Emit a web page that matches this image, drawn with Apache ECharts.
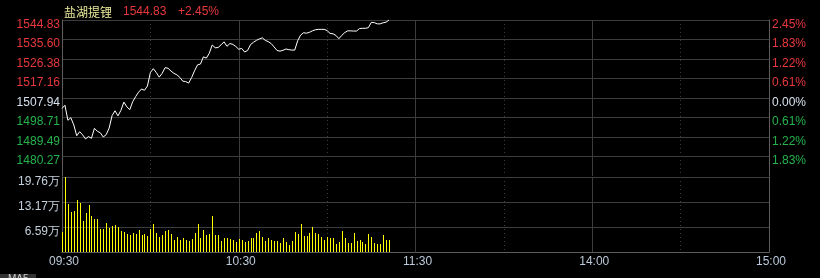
<!DOCTYPE html>
<html><head><meta charset="utf-8">
<script src="https://cdn.jsdelivr.net/npm/echarts@6/dist/echarts.min.js"></script>
<style>html,body{margin:0;padding:0;background:#000;}#c{width:820px;height:278px;}</style>
</head><body><div id="c"></div>
<script>
const stockName = '盐湖提锂';
const lastPrice = '1544.83';
const lastChange = '+2.45%';
const priceMin = 1471.05;
const priceMax = 1544.83;
const volMax = 19.76;
const priceTicks = ['','1480.27','1489.49','1498.71','1507.94','1517.16','1526.38','1535.60','1544.83'];
const pctTicks = ['','1.83%','1.22%','0.61%','0.00%','0.61%','1.22%','1.83%','2.45%'];
const volTicks = ['','6.59万','13.17万','19.76万'];
const timeTicks = ['09:30','10:30','11:30','14:00','15:00'];
const solidTimes = ['10:30','11:30','14:00'];
const dottedTimes = ['10:00','11:00','13:30','14:30'];

const prices = [
1503.0,1504.5,1497.4,1498.6,1495.2,1490.1,1492.0,1490.5,1488.6,1489.7,
1488.9,1493.6,1492.2,1491.5,1489.5,1490.6,1493.7,1499.6,1501.9,1499.5,
1502.1,1506.0,1503.8,1502.4,1506.2,1508.6,1510.7,1512.2,1511.6,1513.6,
1520.0,1521.8,1520.0,1517.8,1519.6,1522.3,1522.0,1520.7,1519.6,1518.9,
1517.7,1515.9,1515.7,1515.0,1517.6,1520.8,1523.6,1524.0,1527.4,1526.8,
1529.1,1533.0,1531.7,1531.8,1533.1,1534.5,1532.4,1533.7,1533.3,1532.3,
1531.0,1531.4,1529.7,1530.4,1533.2,1534.3,1535.2,1535.9,1536.4,1535.2,
1534.6,1533.7,1532.1,1530.4,1530.1,1530.5,1531.1,1530.8,1530.6,1530.6,
1535.0,1537.7,1538.8,1538.6,1539.0,1539.7,1540.2,1540.4,1540.4,1540.4,
1539.8,1538.5,1538.3,1537.5,1536.0,1537.6,1538.9,1539.7,1539.7,1539.6,
1539.6,1540.8,1540.9,1540.9,1541.2,1543.7,1543.6,1543.0,1543.0,1543.5,
1543.8,1544.83
];
const volumes = [
5.3,19.76,12.7,10.6,10.85,13.76,12.97,8.2,10.3,12.4,
9.5,8.7,8.7,6.1,6.1,7.7,6.35,6.9,7.1,6.6,
5.6,5.3,4.8,4.5,5.0,4.8,5.8,4.5,4.8,4.2,
6.1,7.4,5.0,4.0,4.5,5.6,5.8,4.8,3.2,4.0,
3.2,3.7,3.2,2.9,3.4,5.0,7.4,3.7,5.8,4.5,
4.8,9.5,4.5,4.5,2.9,3.7,3.7,3.4,3.2,2.6,
3.4,3.2,2.6,2.9,3.7,3.7,5.0,5.6,4.0,2.9,
3.7,3.2,2.9,2.9,2.4,3.7,2.6,1.85,2.9,5.3,
4.8,7.4,4.2,4.2,5.0,6.6,5.0,4.8,4.0,3.2,
4.0,3.7,3.7,2.1,2.6,5.6,3.7,2.4,2.4,5.0,
2.9,3.2,2.6,2.1,4.8,4.0,2.4,2.1,2.1,4.5,
3.2,3.2
];

function fmt(m){const h=Math.floor(m/60),mm=m%60;return (h<10?'0':'')+h+':'+(mm<10?'0':'')+mm;}
const times=[];
for(let m=0;m<=120;m++) times.push(fmt(9*60+30+m));
for(let m=1;m<=120;m++) times.push(fmt(13*60+m));

const RED='#e8383c', GREEN='#25b34c', NEUTRAL='#d6e2ee', VOLC='#c4d0dc', TIMEC='#bccadb';
const GRIDC='#3c3c3c', BORDERC='#5c5c5c';
const FONT='"Liberation Sans", Arial, sans-serif';
const G0={left:62,right:51,top:20,height:156};
const G1={left:62,right:51,top:177,height:75};

function xAxisSplit(grid,set,type,withLabels){
  return {
    type:'category', gridIndex:grid, data:times, boundaryGap:false,
    axisLine:{show:withLabels, lineStyle:{color:BORDERC}},
    axisTick:{show:false},
    axisLabel:withLabels?{show:true, interval:0, margin:4, padding:[0,0,0,4], color:TIMEC, fontSize:12, fontFamily:FONT,
      formatter:function(v){return timeTicks.indexOf(v)>=0?v:'';}}:{show:false},
    splitLine:{show:true, interval:function(i,v){return set.indexOf(v)>=0;}, lineStyle:{color:GRIDC, type:type, width:1}}
  };
}
function colorFor(i){return i>4?RED:(i<4?GREEN:NEUTRAL);}
function yLabel(extra){
  return Object.assign({fontSize:12, fontFamily:FONT, verticalAlign:'top', lineHeight:9}, extra);
}

const chart=echarts.init(document.getElementById('c'),null,{renderer:'canvas'});
chart.setOption({
  backgroundColor:'#000',
  animation:false,
  grid:[G0,G1],
  xAxis:[
    xAxisSplit(0,solidTimes,'solid',false),
    xAxisSplit(0,dottedTimes,[1,3],false),
    xAxisSplit(1,solidTimes,'solid',true),
    xAxisSplit(1,dottedTimes,[1,3],false)
  ],
  yAxis:[
    {type:'value', gridIndex:0, min:priceMin, max:priceMax, show:false},
    {type:'value', gridIndex:0, min:0, max:8, interval:1, position:'left',
      axisLine:{show:true, lineStyle:{color:BORDERC}}, axisTick:{show:false},
      axisLabel:yLabel({margin:2, formatter:function(v){return priceTicks[v]||'';}, color:function(v){return colorFor(v);}}),
      splitLine:{show:true, showMinLine:false, lineStyle:{color:GRIDC}}},
    {type:'value', gridIndex:0, min:0, max:8, interval:1, position:'right',
      axisLine:{show:true, lineStyle:{color:BORDERC}}, axisTick:{show:false},
      axisLabel:yLabel({margin:3, formatter:function(v){return pctTicks[v]||'';}, color:function(v){return colorFor(v);}}),
      splitLine:{show:false}},
    {type:'value', gridIndex:1, min:0, max:volMax, show:false},
    {type:'value', gridIndex:1, min:0, max:3, interval:1, position:'left',
      axisLine:{show:true, lineStyle:{color:BORDERC}}, axisTick:{show:false},
      axisLabel:yLabel({margin:2, color:VOLC, formatter:function(v){return volTicks[v]||'';}}),
      splitLine:{show:true, showMinLine:false, lineStyle:{color:GRIDC}}},
    {type:'value', gridIndex:1, min:0, max:3, interval:1, position:'right',
      axisLine:{show:true, lineStyle:{color:BORDERC}}, axisTick:{show:false},
      axisLabel:{show:false}, splitLine:{show:false}}
  ],
  series:[
    {type:'line', xAxisIndex:0, yAxisIndex:0, data:prices, symbol:'none', smooth:false,
      lineStyle:{color:'#ffffff', width:1}, z:5},
    {type:'custom', xAxisIndex:2, yAxisIndex:3, z:5,
      data:volumes.map(function(v,i){return [i,v];}),
      encode:{x:0,y:1},
      renderItem:function(params,api){
        var top=api.coord([api.value(0),api.value(1)]);
        var base=api.coord([api.value(0),0]);
        var x=Math.round(top[0]);
        var y0=Math.round(top[1]), y1=Math.round(base[1]);
        return {type:'rect', shape:{x:x,y:y0,width:1,height:y1-y0}, style:{fill:'#ffff00', stroke:null, lineWidth:0}};
      }}
  ],
  graphic:[
    {type:'text', left:64, top:6, style:{text:stockName, fill:'#ecec9c', font:'12px "Noto Sans CJK SC", sans-serif'}},
    {type:'text', left:123, top:6, style:{text:lastPrice, fill:RED, font:'12px '+FONT}},
    {type:'text', left:178, top:6, style:{text:lastChange, fill:RED, font:'12px '+FONT}},
    {type:'rect', shape:{x:0,y:274,width:36,height:10}, style:{fill:'#333333'}},
    {type:'text', x:8, y:274, style:{text:'MA5', fill:'#cfcfcf', font:'10px '+FONT}}
  ]
});
</script></body></html>
